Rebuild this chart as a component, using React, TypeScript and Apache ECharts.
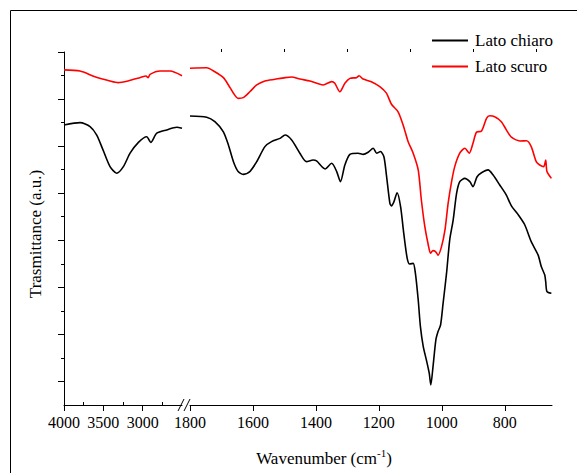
import React, { useEffect, useRef } from "react";
import * as echarts from "echarts";

// Wavenumber (cm-1) / transmittance (a.u.)
const chiaroHighWn = [4000, 3796, 3669, 3584, 3504, 3415, 3330, 3245, 3160, 3054, 2948, 2897, 2821, 2694, 2566, 2500];
const chiaroHighT = [11.9, 12.0, 11.83, 11.47, 10.84, 10.13, 9.85, 10.13, 10.7, 11.16, 11.4, 11.16, 11.55, 11.69, 11.8, 11.76];

const scuroHighWn = [4000, 3796, 3606, 3415, 3313, 3186, 3033, 2957, 2931, 2906, 2779, 2651, 2500];
const scuroHighT = [14.24, 14.19, 13.95, 13.77, 13.7, 13.77, 13.91, 13.98, 13.91, 14.05, 14.19, 14.19, 13.99];

const chiaroLowWn = [1800, 1747, 1721, 1694, 1678, 1662, 1647, 1631, 1610, 1588, 1562, 1541, 1514, 1498, 1477, 1451, 1430, 1409, 1398, 1371, 1350, 1334, 1322, 1308, 1292, 1266, 1250, 1234, 1218, 1207, 1195, 1184, 1176, 1165, 1160, 1152, 1142, 1131, 1121, 1110, 1102, 1091, 1084, 1075, 1068, 1059, 1049, 1040, 1035, 1028, 1019, 1012, 1004, 996, 985, 975, 964, 953, 943, 927, 911, 901, 888, 874, 853, 837, 816, 795, 779, 758, 737, 716, 694, 684, 673, 670, 666, 652];
const chiaroLowT = [12.28, 12.23, 12.04, 11.61, 11.05, 10.34, 9.92, 9.8, 9.92, 10.34, 10.98, 11.19, 11.33, 11.47, 11.26, 10.7, 10.34, 10.41, 10.37, 10.03, 10.27, 9.92, 9.49, 10.2, 10.65, 10.7, 10.65, 10.74, 10.91, 10.7, 10.77, 10.55, 9.77, 8.57, 8.46, 8.64, 9.02, 8.43, 7.3, 6.23, 5.99, 6.02, 5.6, 4.46, 3.33, 2.48, 1.91, 1.35, 0.85, 1.63, 2.76, 3.12, 3.4, 4.32, 5.6, 7.01, 7.86, 9.0, 9.49, 9.63, 9.49, 9.28, 9.7, 9.87, 9.99, 9.77, 9.35, 8.92, 8.46, 8.1, 7.67, 6.94, 6.37, 5.88, 5.52, 5.24, 4.82, 4.75];

const scuroLowWn = [1800, 1747, 1721, 1694, 1678, 1662, 1647, 1631, 1610, 1588, 1562, 1530, 1498, 1477, 1451, 1419, 1377, 1350, 1340, 1324, 1308, 1292, 1271, 1263, 1250, 1224, 1197, 1176, 1160, 1139, 1123, 1107, 1091, 1075, 1065, 1054, 1043, 1036, 1028, 1020, 1012, 1001, 990, 980, 969, 959, 943, 927, 913, 901, 890, 874, 858, 848, 832, 811, 795, 779, 752, 731, 716, 700, 689, 676, 670, 666, 652];
const scuroLowT = [14.31, 14.33, 14.16, 13.91, 13.6, 13.25, 13.03, 13.06, 13.31, 13.6, 13.77, 13.84, 13.91, 13.94, 13.85, 13.77, 13.6, 13.74, 13.67, 13.31, 13.67, 13.88, 13.91, 13.99, 13.85, 13.74, 13.53, 13.25, 12.78, 12.46, 11.9, 11.19, 10.7, 9.99, 8.71, 7.58, 6.8, 6.45, 6.56, 6.52, 6.37, 6.73, 7.44, 8.57, 9.49, 10.13, 10.7, 10.91, 10.7, 11.12, 11.59, 11.64, 12.18, 12.29, 12.25, 12.04, 11.69, 11.38, 11.22, 11.23, 10.98, 10.34, 10.2, 10.13, 10.41, 9.92, 9.63];

const highMajorTicks = [4000, 3500, 3000];
const highMinorTicks = [3750, 3250, 2750];
const lowMajorTicks = [1800, 1600, 1400, 1200, 1000, 800];
const lowMinorTicks = [1700, 1500, 1300, 1100, 900, 700];
const yMajorTicks = [1, 3, 5, 7, 9, 11, 13, 15];
const yMinorTicks = [2, 4, 6, 8, 10, 12, 14];

const seriesNames = ["Lato chiaro", "Lato scuro"];
const seriesColors = ["#000000", "#ff0000"];

const FONT = "'Liberation Serif', serif";

const zip = (a: number[], b: number[]) => a.map((v, i) => [v, b[i]]);

export default function App() {
  const ref = useRef<HTMLDivElement>(null);
  useEffect(() => {
    if (!ref.current) return;
    const chart = echarts.init(ref.current, undefined, { renderer: "svg" });
    const axisLine = { show: true, lineStyle: { color: "#000", width: 1 } };
    const label = {
      fontFamily: FONT, fontSize: 16, color: "#000", margin: 9,
      formatter: (v: number) => String(v),
    };
    const line = (name: string, color: string, xi: number, yi: number, data: number[][]) => ({
      name,
      type: "line",
      xAxisIndex: xi,
      yAxisIndex: yi,
      data,
      symbol: "none",
      showSymbol: false,
      smooth: 0.25,
      lineStyle: { color, width: 1.6 },
      itemStyle: { color },
    });
    chart.setOption({
      animation: false,
      backgroundColor: "#fff",
      textStyle: { fontFamily: FONT },
      grid: [
        { left: 64, top: 52, width: 118, height: 353 },
        { left: 190, top: 52, width: 362, height: 353 },
      ],
      xAxis: [
        {
          gridIndex: 0, type: "value", inverse: true, min: 2500, max: 4000,
          axisLine, splitLine: { show: false },
          axisTick: { show: true, length: 6, customValues: highMajorTicks, lineStyle: { color: "#000" } },
          axisLabel: { ...label, customValues: highMajorTicks },
        },
        {
          gridIndex: 1, type: "value", inverse: true, min: 650, max: 1800,
          axisLine, splitLine: { show: false },
          axisTick: { show: true, length: 6, customValues: lowMajorTicks, lineStyle: { color: "#000" } },
          axisLabel: { ...label, customValues: lowMajorTicks },
        },
        {
          gridIndex: 0, type: "value", inverse: true, min: 2500, max: 4000,
          axisLine: { show: false }, splitLine: { show: false }, axisLabel: { show: false },
          axisTick: { show: true, length: 3, customValues: highMinorTicks, lineStyle: { color: "#000" } },
        },
        {
          gridIndex: 1, type: "value", inverse: true, min: 650, max: 1800,
          axisLine: { show: false }, splitLine: { show: false }, axisLabel: { show: false },
          axisTick: { show: true, length: 3, customValues: lowMinorTicks, lineStyle: { color: "#000" } },
        },
      ],
      yAxis: [
        {
          gridIndex: 0, type: "value", min: 0, max: 15,
          axisLine, splitLine: { show: false }, axisLabel: { show: false },
          axisTick: { show: true, length: 6, customValues: yMajorTicks, lineStyle: { color: "#000" } },
        },
        {
          gridIndex: 0, type: "value", min: 0, max: 15, position: "left",
          axisLine: { show: false }, splitLine: { show: false }, axisLabel: { show: false },
          axisTick: { show: true, length: 3, customValues: yMinorTicks, lineStyle: { color: "#000" } },
        },
        {
          gridIndex: 1, type: "value", min: 0, max: 15, show: false,
        },
      ],
      legend: {
        data: seriesNames.map((n) => ({ name: n, icon: "rect" })),
        orient: "vertical",
        left: 427,
        top: 27,
        itemWidth: 36,
        itemHeight: 2,
        itemGap: 9,
        textStyle: { fontFamily: FONT, fontSize: 17, color: "#000", padding: [0, 0, 0, 2] },
      },
      series: [
        line(seriesNames[0], seriesColors[0], 0, 0, zip(chiaroHighWn, chiaroHighT)),
        line(seriesNames[0], seriesColors[0], 1, 2, zip(chiaroLowWn, chiaroLowT)),
        line(seriesNames[1], seriesColors[1], 0, 0, zip(scuroHighWn, scuroHighT)),
        line(seriesNames[1], seriesColors[1], 1, 2, zip(scuroLowWn, scuroLowT)),
      ],
      graphic: [
        {
          type: "rect", silent: true,
          shape: { x: 10.5, y: 10.5, width: 700, height: 600 },
          style: { fill: "none", stroke: "#000", lineWidth: 1 },
        },
        { type: "line", shape: { x1: 178, y1: 411, x2: 184, y2: 399 }, style: { stroke: "#000", lineWidth: 1 } },
        { type: "line", shape: { x1: 184, y1: 411, x2: 190, y2: 399 }, style: { stroke: "#000", lineWidth: 1 } },
        {
          type: "text", x: 35, y: 234, rotation: Math.PI / 2,
          style: {
            text: "Trasmittance (a.u.)", fontFamily: FONT, fontSize: 17, fill: "#000",
            align: "center", verticalAlign: "middle",
          },
        },
        {
          type: "text", x: 324, y: 457,
          style: {
            text: "{n|Wavenumber (cm}{s|-1}{n|)}",
            align: "center", verticalAlign: "middle",
            rich: {
              n: { fontFamily: FONT, fontSize: 17, fill: "#000", lineHeight: 20, verticalAlign: "bottom" },
              s: { fontFamily: FONT, fontSize: 11, fill: "#000", lineHeight: 11, verticalAlign: "top" },
            },
          },
        },
      ],
    });
    return () => chart.dispose();
  }, []);
  return (
    <div
      ref={ref}
      style={{ position: "fixed", left: 0, top: 0, width: 577, height: 473, background: "#fff" }}
    />
  );
}
